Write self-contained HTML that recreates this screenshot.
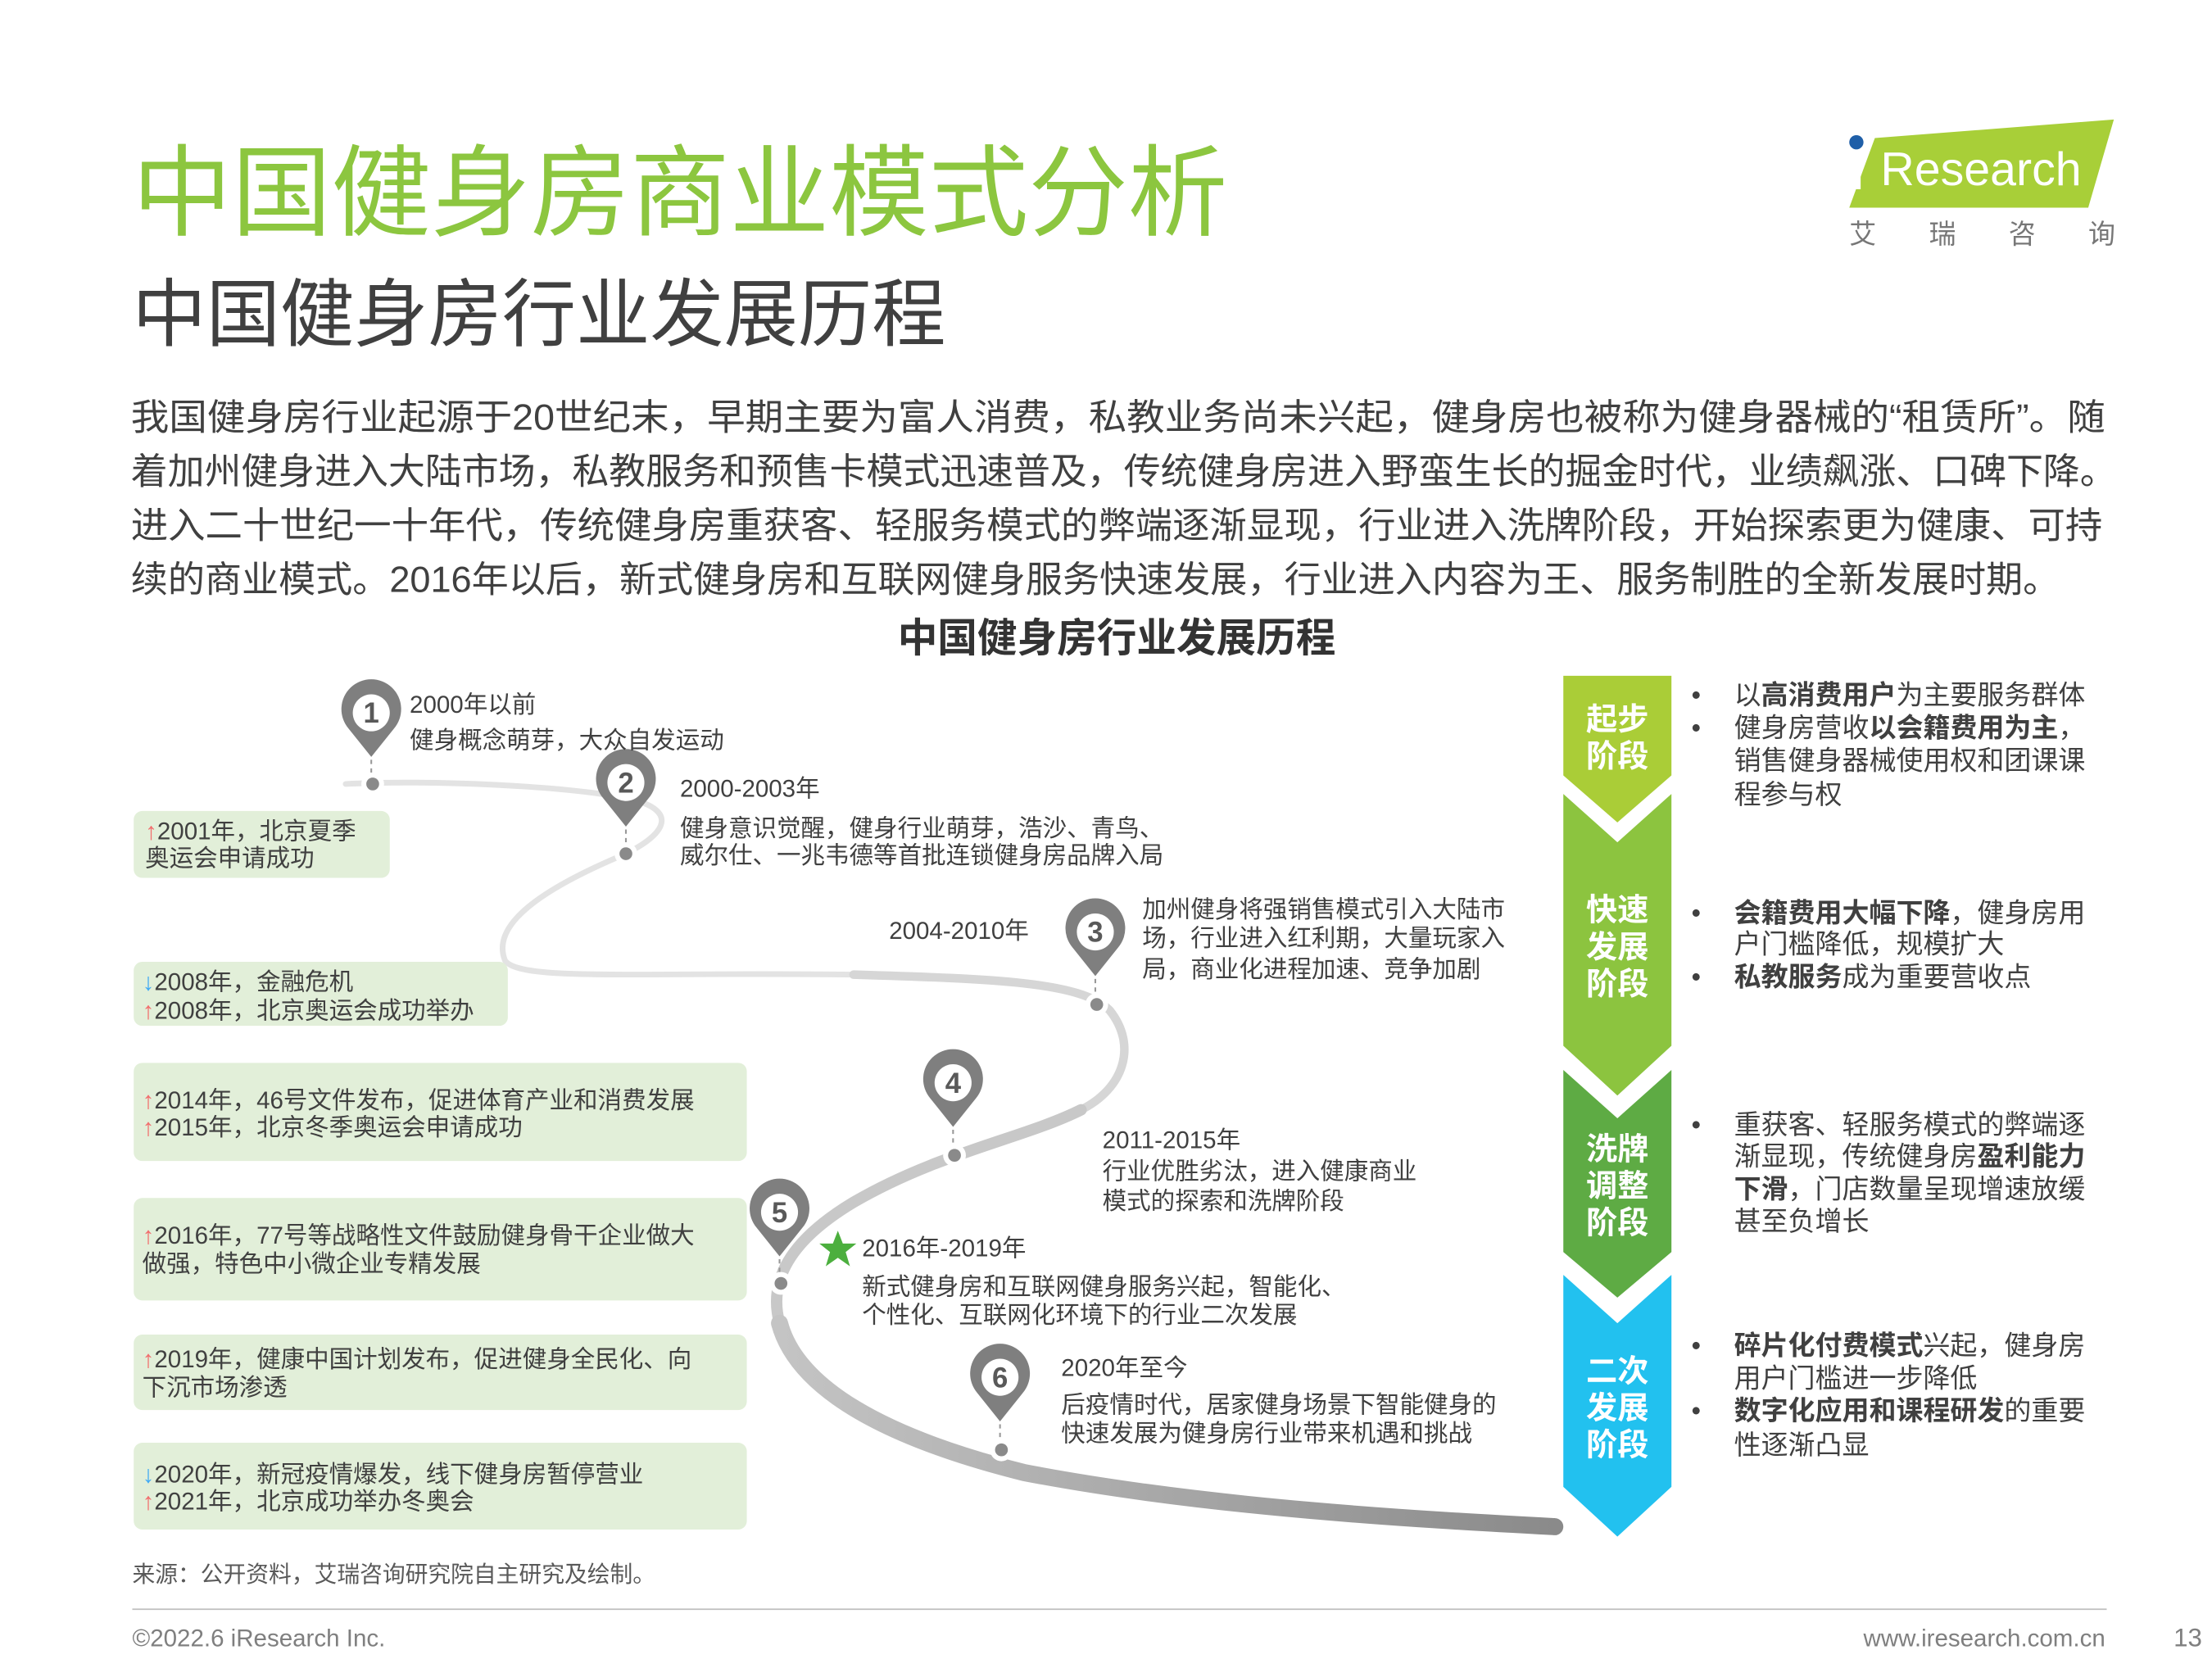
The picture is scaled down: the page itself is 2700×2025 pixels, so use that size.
<!DOCTYPE html>
<html><head><meta charset="utf-8">
<style>
html,body{margin:0;padding:0;background:#fff;}
svg{display:block;}
text{font-family:"Liberation Sans","Noto Sans CJK SC",sans-serif;}
</style></head>
<body>
<svg width="2700" height="2025" viewBox="0 0 1555 1166" preserveAspectRatio="none" xmlns="http://www.w3.org/2000/svg">
<defs>
<linearGradient id="rd" gradientUnits="userSpaceOnUse" x1="548" y1="0" x2="1095" y2="0">
<stop offset="0" stop-color="#c4c4c4"/><stop offset="1" stop-color="#8a8a8a"/></linearGradient>
</defs>
<rect width="1555" height="1166" fill="#fff"/>
<!-- titles -->
<text x="93" y="160" font-size="70" fill="#8cc63f">中国健身房商业模式分析</text>
<text x="93" y="239" font-size="52" fill="#404040">中国健身房行业发展历程</text>
<g font-size="25.5" fill="#404040">
<text x="92" y="302" textLength="1388" lengthAdjust="spacingAndGlyphs">我国健身房行业起源于20世纪末，早期主要为富人消费，私教业务尚未兴起，健身房也被称为健身器械的“租赁所”。随</text>
<text x="92" y="340" textLength="1396" lengthAdjust="spacingAndGlyphs">着加州健身进入大陆市场，私教服务和预售卡模式迅速普及，传统健身房进入野蛮生长的掘金时代，业绩飙涨、口碑下降。</text>
<text x="92" y="378" textLength="1386" lengthAdjust="spacingAndGlyphs">进入二十世纪一十年代，传统健身房重获客、轻服务模式的弊端逐渐显现，行业进入洗牌阶段，开始探索更为健康、可持</text>
<text x="92" y="416" textLength="1356" lengthAdjust="spacingAndGlyphs">续的商业模式。2016年以后，新式健身房和互联网健身服务快速发展，行业进入内容为王、服务制胜的全新发展时期。</text>
</g>
<text x="785" y="458" font-size="28" font-weight="bold" fill="#333" text-anchor="middle">中国健身房行业发展历程</text>
<!-- logo -->
<polygon points="1318,97 1486,84 1468,146 1300,146" fill="#a8cf38"/>
<rect x="1301" y="108" width="7" height="25" fill="#fff"/>
<circle cx="1305" cy="100" r="5" fill="#1f5fa8"/>
<text x="1322" y="130" font-size="33" fill="#fff">Research</text>
<text x="1300" y="171" font-size="19" fill="#777" textLength="187">艾　瑞　咨　询</text>
<!-- road -->
<g fill="none" stroke-linecap="round">
<path d="M243,551 C300,548 400,552 445,562 C475,570 470,585 440,600 C380,625 345,650 355,675 C365,690 450,683 600,685" stroke="#e3e3e3" stroke-width="4"/>
<path d="M600,685 C700,688 760,690 780,710 C800,735 790,765 760,780" stroke="#d6d6d6" stroke-width="6"/>
<path d="M760,780 C720,800 660,810 600,845 C555,872 540,900 548,930" stroke="#c8c8c8" stroke-width="8"/>
<path d="M548,930 C560,975 620,1010 720,1035 C850,1060 1000,1068 1093,1073" stroke="url(#rd)" stroke-width="12"/>
</g>
<!-- pins -->
<g id="pins">
<g font-size="20" font-weight="bold" fill="#595959" text-anchor="middle">
<!-- pin template: cx,cy -->
<path d="M261,532 L245,512 A21,21 0 1 1 277,512 Z" fill="#7f7f7f"/><circle cx="261" cy="501" r="13" fill="#fff"/><text x="261" y="508">1</text>
<path d="M440,581 L424,561 A21,21 0 1 1 456,561 Z" fill="#7f7f7f"/><circle cx="440" cy="550" r="13" fill="#fff"/><text x="440" y="557">2</text>
<path d="M770,686 L754,666 A21,21 0 1 1 786,666 Z" fill="#7f7f7f"/><circle cx="770" cy="655" r="13" fill="#fff"/><text x="770" y="662">3</text>
<path d="M670,792 L654,772 A21,21 0 1 1 686,772 Z" fill="#7f7f7f"/><circle cx="670" cy="761" r="13" fill="#fff"/><text x="670" y="768">4</text>
<path d="M548,883 L532,863 A21,21 0 1 1 564,863 Z" fill="#7f7f7f"/><circle cx="548" cy="852" r="13" fill="#fff"/><text x="548" y="859">5</text>
<path d="M703,999 L687,979 A21,21 0 1 1 719,979 Z" fill="#7f7f7f"/><circle cx="703" cy="968" r="13" fill="#fff"/><text x="703" y="975">6</text>
</g>
<g stroke="#999" stroke-width="1.2" stroke-dasharray="3,3">
<line x1="261" y1="534" x2="261" y2="543"/><line x1="440" y1="583" x2="440" y2="592"/>
<line x1="770" y1="688" x2="770" y2="698"/><line x1="670" y1="794" x2="670" y2="804"/>
<line x1="548" y1="885" x2="548" y2="894"/><line x1="703" y1="1001" x2="703" y2="1011"/>
</g>
<g fill="#fff"><circle cx="262" cy="551" r="8"/><circle cx="440" cy="600" r="8"/><circle cx="771" cy="706" r="8"/><circle cx="671" cy="812" r="8"/><circle cx="549" cy="902" r="8"/><circle cx="704" cy="1019" r="8"/></g>
<g fill="#8a8a8a"><circle cx="262" cy="551" r="4.5"/><circle cx="440" cy="600" r="4.5"/><circle cx="771" cy="706" r="4.5"/><circle cx="671" cy="812" r="4.5"/><circle cx="549" cy="902" r="4.5"/><circle cx="704" cy="1019" r="4.5"/></g>
</g>
<!-- timeline labels -->
<g font-size="17" fill="#404040">
<text x="288" y="501">2000年以前</text>
<text x="288" y="526">健身概念萌芽，大众自发运动</text>
<text x="478" y="560">2000-2003年</text>
<text x="478" y="588">健身意识觉醒，健身行业萌芽，浩沙、青鸟、</text>
<text x="478" y="607">威尔仕、一兆韦德等首批连锁健身房品牌入局</text>
<text x="625" y="660">2004-2010年</text>
<text x="803" y="645">加州健身将强销售模式引入大陆市</text>
<text x="803" y="665">场，行业进入红利期，大量玩家入</text>
<text x="803" y="687">局，商业化进程加速、竞争加剧</text>
<text x="775" y="807">2011-2015年</text>
<text x="775" y="829">行业优胜劣汰，进入健康商业</text>
<text x="775" y="850">模式的探索和洗牌阶段</text>
<text x="606" y="883">2016年-2019年</text>
<text x="606" y="910">新式健身房和互联网健身服务兴起，智能化、</text>
<text x="606" y="930">个性化、互联网化环境下的行业二次发展</text>
<text x="746" y="967">2020年至今</text>
<text x="746" y="993">后疫情时代，居家健身场景下智能健身的</text>
<text x="746" y="1013">快速发展为健身房行业带来机遇和挑战</text>
</g>
<polygon points="589,865 592.5,874 602,874 594.5,880 597.5,890 589,884 580.5,890 583.5,880 576,874 585.5,874" fill="#4caf3e"/>
<!-- left boxes -->
<g fill="#e2efd9">
<rect x="94" y="570" width="180" height="47" rx="6"/>
<rect x="94" y="676" width="263" height="45" rx="6"/>
<rect x="94" y="747" width="431" height="69" rx="6"/>
<rect x="94" y="842" width="431" height="72" rx="6"/>
<rect x="94" y="938" width="431" height="53" rx="6"/>
<rect x="94" y="1014" width="431" height="61" rx="6"/>
</g>
<g font-size="17" fill="#404040">
<text x="102" y="590"><tspan fill="#f26d6d">↑</tspan>2001年，北京夏季</text>
<text x="102" y="609">奥运会申请成功</text>
<text x="100" y="696"><tspan fill="#3fa9f5">↓</tspan>2008年，金融危机</text>
<text x="100" y="716"><tspan fill="#f26d6d">↑</tspan>2008年，北京奥运会成功举办</text>
<text x="100" y="779"><tspan fill="#f26d6d">↑</tspan>2014年，46号文件发布，促进体育产业和消费发展</text>
<text x="100" y="798"><tspan fill="#f26d6d">↑</tspan>2015年，北京冬季奥运会申请成功</text>
<text x="100" y="874"><tspan fill="#f26d6d">↑</tspan>2016年，77号等战略性文件鼓励健身骨干企业做大</text>
<text x="100" y="894">做强，特色中小微企业专精发展</text>
<text x="100" y="961"><tspan fill="#f26d6d">↑</tspan>2019年，健康中国计划发布，促进健身全民化、向</text>
<text x="100" y="981">下沉市场渗透</text>
<text x="100" y="1042"><tspan fill="#3fa9f5">↓</tspan>2020年，新冠疫情爆发，线下健身房暂停营业</text>
<text x="100" y="1061"><tspan fill="#f26d6d">↑</tspan>2021年，北京成功举办冬奥会</text>
</g>
<!-- chevrons -->
<polygon points="1099,475 1175,475 1175,545 1137,578 1099,545" fill="#aacd37"/>
<polygon points="1099,558 1137,592 1175,558 1175,735 1137,770 1099,735" fill="#8cc43f"/>
<polygon points="1099,752 1137,786 1175,752 1175,880 1137,912 1099,880" fill="#5eab44"/>
<polygon points="1099,896 1137,930 1175,896 1175,1045 1137,1080 1099,1045" fill="#22c1ef"/>
<g font-size="22" font-weight="bold" fill="#fff" text-anchor="middle">
<text x="1137" y="513">起步</text><text x="1137" y="539">阶段</text>
<text x="1137" y="647">快速</text><text x="1137" y="673">发展</text><text x="1137" y="699">阶段</text>
<text x="1137" y="815">洗牌</text><text x="1137" y="841">调整</text><text x="1137" y="867">阶段</text>
<text x="1137" y="971">二次</text><text x="1137" y="997">发展</text><text x="1137" y="1023">阶段</text>
</g>
<g font-size="19" fill="#404040">
<text x="1189" y="495">•</text><text x="1219" y="495">以<tspan font-weight="bold">高消费用户</tspan>为主要服务群体</text>
<text x="1189" y="518">•</text><text x="1219" y="518">健身房营收<tspan font-weight="bold">以会籍费用为主</tspan>，</text>
<text x="1219" y="541">销售健身器械使用权和团课课</text>
<text x="1219" y="565">程参与权</text>
<text x="1189" y="648">•</text><text x="1219" y="648"><tspan font-weight="bold">会籍费用大幅下降</tspan>，健身房用</text>
<text x="1219" y="670">户门槛降低，规模扩大</text>
<text x="1189" y="693">•</text><text x="1219" y="693"><tspan font-weight="bold">私教服务</tspan>成为重要营收点</text>
<text x="1189" y="797">•</text><text x="1219" y="797">重获客、轻服务模式的弊端逐</text>
<text x="1219" y="819">渐显现，传统健身房<tspan font-weight="bold">盈利能力</tspan></text>
<text x="1219" y="842"><tspan font-weight="bold">下滑</tspan>，门店数量呈现增速放缓</text>
<text x="1219" y="865">甚至负增长</text>
<text x="1189" y="952">•</text><text x="1219" y="952"><tspan font-weight="bold">碎片化付费模式</tspan>兴起，健身房</text>
<text x="1219" y="975">用户门槛进一步降低</text>
<text x="1189" y="998">•</text><text x="1219" y="998"><tspan font-weight="bold">数字化应用和课程研发</tspan>的重要</text>
<text x="1219" y="1022">性逐渐凸显</text>
</g>
<!-- footer -->
<text x="93" y="1112" font-size="16" fill="#595959">来源：公开资料，艾瑞咨询研究院自主研究及绘制。</text>
<line x1="93" y1="1131" x2="1481" y2="1131" stroke="#bfbfbf" stroke-width="1"/>
<text x="93" y="1157" font-size="17" fill="#7f7f7f">©2022.6 iResearch Inc.</text>
<text x="1480" y="1157" font-size="17" fill="#7f7f7f" text-anchor="end">www.iresearch.com.cn</text>
<text x="1548" y="1157" font-size="18" fill="#7f7f7f" text-anchor="end">13</text>
</svg>
</body></html>
